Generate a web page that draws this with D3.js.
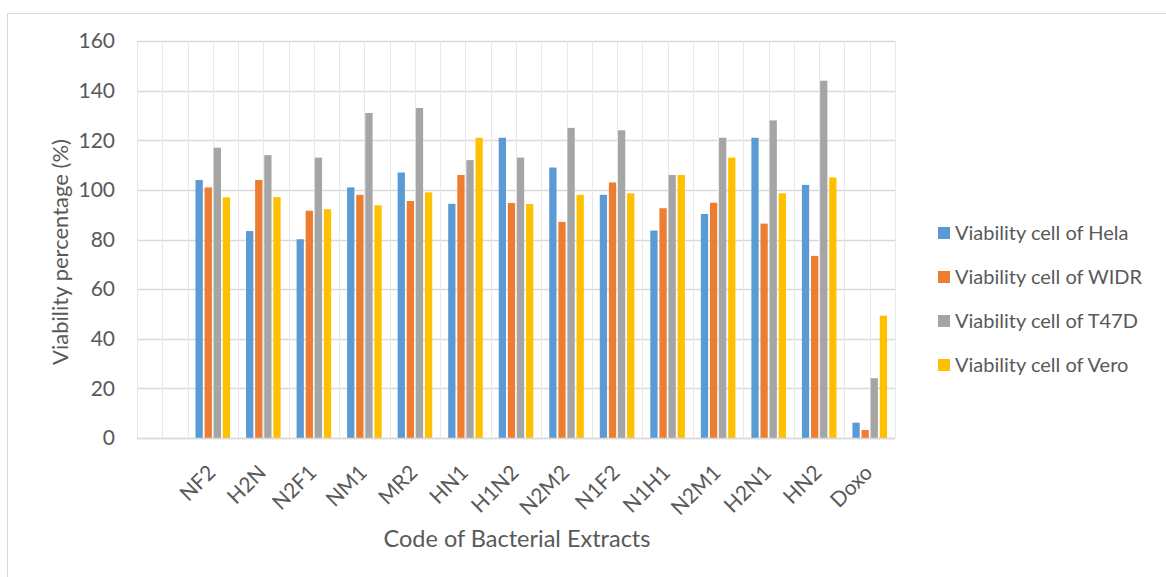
<!DOCTYPE html>
<html>
<head>
<meta charset="utf-8">
<script src="https://cdn.jsdelivr.net/npm/d3@7"></script>
<style>
  html, body { margin: 0; padding: 0; background: #fff; }
  svg { display: block; }
  text { font-family: Lato, "Open Sans", sans-serif; fill: #595959; }
</style>
</head>
<body>
<svg id="chart" width="1166" height="577"></svg>
<script>
// ---- data ----
const categories = ["", "NF2", "H2N", "N2F1", "NM1", "MR2", "HN1", "H1N2", "N2M2", "N1F2", "N1H1", "N2M1", "H2N1", "HN2", "Doxo"];
const seriesNames = ["Viability cell of Hela", "Viability cell of WIDR", "Viability cell of T47D", "Viability cell of Vero"];
const hela = [null, 104, 83.4, 80.1, 101, 107, 94.4, 121, 109, 98, 83.6, 90.3, 121, 102, 6.2];
const widr = [null, 101, 104, 91.6, 98, 95.5, 106, 94.7, 87.1, 103, 92.6, 94.8, 86.4, 73.4, 3.2];
const t47d = [null, 117, 114, 113, 131, 133, 112, 113, 125, 124, 106, 121, 128, 144, 24.1];
const vero = [null, 97, 97.1, 92.2, 93.8, 99, 121, 94.3, 98, 98.6, 106, 113, 98.6, 105, 49.3];
const yTicks = [0, 20, 40, 60, 80, 100, 120, 140, 160];
const colors = ["#5b9bd5", "#ed7d31", "#a5a5a5", "#ffc000"];
const yTitle = "Viability percentage (%)";
const xTitle = "Code of Bacterial Extracts";

const seriesValues = [hela, widr, t47d, vero];

// ---- layout ----
const svg = d3.select("#chart");
const plot = { left: 137, right: 895, top: 41, bottom: 438 };

// outer frame (partial, as in reference)
svg.append("path")
  .attr("d", `M7.5,577 V13.5 H1166`)
  .attr("fill", "none").attr("stroke", "#d9d9d9").attr("stroke-width", 1);

const x0 = d3.scaleBand().domain(categories.map((c, i) => i)).range([plot.left, plot.right]).padding(0);
const x1 = d3.scaleBand().domain(d3.range(seriesNames.length)).range([0, x0.bandwidth()])
  .paddingInner(0.2).paddingOuter(0.876);
const y = d3.scaleLinear().domain([0, 160]).range([plot.bottom, plot.top]);

const g = svg.append("g");

// horizontal gridlines
g.selectAll("line.hgrid").data(yTicks).enter().append("line")
  .attr("x1", plot.left).attr("x2", plot.right)
  .attr("y1", d => Math.round(y(d)) + 0.5).attr("y2", d => Math.round(y(d)) + 0.5)
  .attr("stroke", "#d9d9d9").attr("stroke-width", 1.4);

// vertical gridlines at category boundaries and centers
const vlines = [];
categories.forEach((c, i) => { vlines.push(x0(i)); vlines.push(x0(i) + x0.bandwidth() / 2); });
vlines.push(plot.right);
g.selectAll("line.vgrid").data(vlines).enter().append("line")
  .attr("x1", d => Math.round(d) + 0.5).attr("x2", d => Math.round(d) + 0.5)
  .attr("y1", plot.top).attr("y2", plot.bottom)
  .attr("stroke", "#e8e8e8").attr("stroke-width", 1.1);

// y tick labels
g.selectAll("text.ytick").data(yTicks).enter().append("text")
  .attr("x", 115).attr("y", d => y(d)).attr("dy", "0.35em")
  .attr("text-anchor", "end").attr("font-size", 21)
  .text(d => d);

// bars
const groups = g.selectAll("g.cat").data(categories.map((c, i) => i)).enter().append("g")
  .attr("transform", i => `translate(${x0(i)},0)`);
groups.selectAll("rect").data(i => seriesValues.map((arr, s) => ({ s, v: arr[i] })).filter(d => d.v != null))
  .enter().append("rect")
  .attr("x", d => x1(d.s)).attr("width", x1.bandwidth())
  .attr("y", d => y(d.v)).attr("height", d => y(0) - y(d.v))
  .attr("fill", d => colors[d.s]);

// x axis line
g.append("line").attr("x1", plot.left).attr("x2", plot.right)
  .attr("y1", plot.bottom + 0.5).attr("y2", plot.bottom + 0.5)
  .attr("stroke", "#d9d9d9").attr("stroke-width", 1.4);

// x tick labels
g.selectAll("text.xtick").data(categories.map((c, i) => i)).enter().append("text")
  .attr("transform", i => `translate(${x0(i) + x0.bandwidth() / 2 + 4},474) rotate(-45)`)
  .attr("text-anchor", "end").attr("font-size", 21)
  .text(i => categories[i]);

// axis titles
svg.append("text").attr("x", 517).attr("y", 547).attr("text-anchor", "middle")
  .attr("font-size", 23.5).text(xTitle);
svg.append("text").attr("transform", `translate(68,252) rotate(-90)`)
  .attr("text-anchor", "middle").attr("font-size", 22).text(yTitle);

// legend
const legendY = [233, 277, 321, 365];
const lg = svg.append("g").selectAll("g").data(seriesNames).enter().append("g")
  .attr("transform", (d, i) => `translate(938,${legendY[i]})`);
lg.append("rect").attr("x", 0).attr("y", -6).attr("width", 12).attr("height", 12)
  .attr("fill", (d, i) => colors[i]);
lg.append("text").attr("x", 17).attr("y", 0).attr("dy", "0.35em")
  .attr("font-size", 20).text(d => d);
</script>
</body>
</html>
